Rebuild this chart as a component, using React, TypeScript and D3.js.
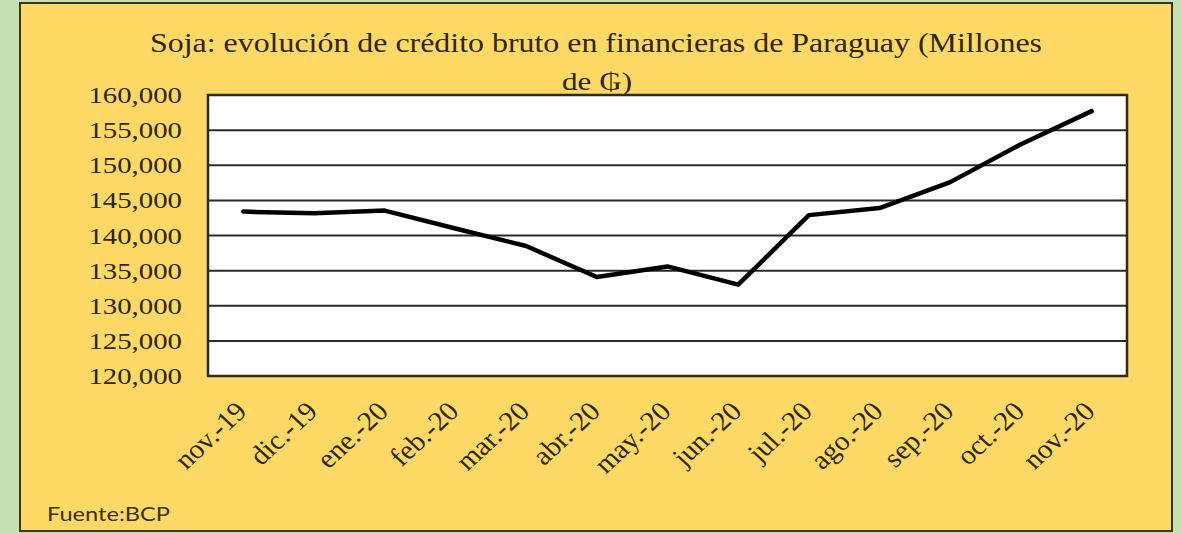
import React from "react";
import * as d3 from "d3";

const categories = ["nov.-19", "dic.-19", "ene.-20", "feb.-20", "mar.-20", "abr.-20", "may.-20", "jun.-20", "jul.-20", "ago.-20", "sep.-20", "oct.-20", "nov.-20"];
const values = [143400, 143150, 143550, 141000, 138500, 134100, 135600, 133000, 142900, 143900, 147600, 153000, 157700];
const yTicks = [120000, 125000, 130000, 135000, 140000, 145000, 150000, 155000, 160000];
const titleLine1 = "Soja: evolución de crédito bruto en financieras de Paraguay (Millones";
const titleLine2 = "de ₲)";
const source = "Fuente:BCP";

const W = 1181, H = 533;
const plot = { left: 208, right: 1127, top: 95, bottom: 376 };
const serif = "'Liberation Serif', 'Times New Roman', Tinos, serif";
const textColor = "#2e2600";

export default function App() {
  const x = d3.scaleBand<string>().domain(categories).range([plot.left, plot.right]).paddingInner(0).paddingOuter(0);
  const y = d3.scaleLinear().domain([120000, 160000]).range([plot.bottom, plot.top]);
  const fmt = d3.format(",");
  const line = d3.line<number>()
    .x((_, i) => (x(categories[i]) as number) + x.bandwidth() / 2)
    .y((d) => y(d));

  return (
    <svg width={W} height={H} style={{ position: "absolute", left: 0, top: 0, display: "block" }}>
      <rect x={0} y={0} width={W} height={H} fill="#c5e0b3" />
      <rect x={20} y={3} width={1152} height={528} fill="#ffd966" stroke="#3b3520" strokeWidth={2} />
      <text x={596} y={52} textAnchor="middle" style={{ fontFamily: serif }} fontSize={27} fill={textColor}
        textLength={892} lengthAdjust="spacingAndGlyphs">{titleLine1}</text>
      <text x={597} y={90} textAnchor="middle" style={{ fontFamily: serif }} fontSize={26} fill={textColor}
        textLength={70} lengthAdjust="spacingAndGlyphs">{titleLine2}</text>
      <rect x={plot.left} y={plot.top} width={plot.right - plot.left} height={plot.bottom - plot.top} fill="#ffffff" />
      {yTicks.map((t) => (
        <line key={"g" + t} x1={plot.left} x2={plot.right} y1={y(t)} y2={y(t)} stroke="#2a2a2a" strokeWidth={2} />
      ))}
      <rect x={plot.left} y={plot.top} width={plot.right - plot.left} height={plot.bottom - plot.top} fill="none" stroke="#2f2a1a" strokeWidth={2.5} />
      {yTicks.map((t) => (
        <text key={"t" + t} transform={`translate(182,${y(t) + 8}) scale(1.2,1)`} textAnchor="end"
          style={{ fontFamily: serif }} fontSize={24} fill={textColor}>{fmt(t)}</text>
      ))}
      {categories.map((c) => {
        const cx = (x(c) as number) + x.bandwidth() / 2;
        return (
          <text key={c} transform={`translate(${cx + 5},413) scale(1.08,1) rotate(-45)`} textAnchor="end"
            style={{ fontFamily: serif }} fontSize={27} fill={textColor}>{c}</text>
        );
      })}
      <path d={line(values) || ""} fill="none" stroke="#000" strokeWidth={4.5} strokeLinejoin="round" strokeLinecap="round" />
      <text x={47} y={521} style={{ fontFamily: "Lato, sans-serif" }} fontSize={20} fill="#3a3000"
        textLength={123} lengthAdjust="spacingAndGlyphs">{source}</text>
    </svg>
  );
}
